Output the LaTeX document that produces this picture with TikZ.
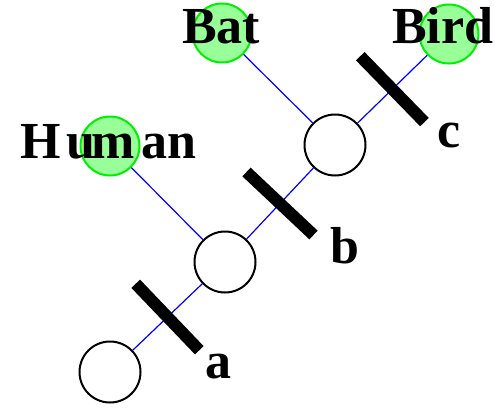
\documentclass[tikz,border=0pt]{standalone}
\usepackage{fontspec}
\setmainfont{Liberation Serif}
\definecolor{leaffill}{RGB}{153,255,153}
\definecolor{leafline}{RGB}{0,238,0}
\begin{document}
\begin{tikzpicture}[x=1pt, y=-1pt,
  innode/.style={circle, draw=black, line width=2pt, fill=white, minimum size=61pt, inner sep=0pt},
  leaf/.style={circle, draw=leafline, line width=2pt, fill=leaffill, minimum size=59pt, inner sep=0pt},
  branch/.style={blue, line width=1.2pt},
  changebar/.style={rectangle, sloped, fill=black, minimum width=12pt, minimum height=92pt, inner sep=0pt},
  taxon/.style={font=\fontsize{52}{52}\selectfont\bfseries, anchor=base west, inner sep=0pt}]
  % Tree of three taxa

  \useasboundingbox (0,0) rectangle (495,407);

  % Inner nodes
  \node[innode] (root) at (110,372) {};
  \node[innode] (mid) at (225,262) {};
  \node[innode] (top) at (335,145) {};

  % Leaves
  \node[leaf] (human) at (110,146) {};
  \node[leaf] (bat) at (222,33) {};
  \node[leaf] (bird) at (449,34) {};

  % Branches, with the marked changes
  \draw[branch] (root) -- (mid) node[changebar, midway] (bara) {};
  \draw[branch] (mid) -- (top) node[changebar, midway] (barb) {};
  \draw[branch] (top) -- (bird) node[changebar, midway] (barc) {};
  \draw[branch] (mid) -- (human);
  \draw[branch] (top) -- (bat);

  % Names
  \node[taxon] (humantext) at (20,158) {H\kern6pt u\kern-4pt m\kern7pt a\kern0pt n};
  \node[taxon] (battext) at (182,43) {Bat};
  \node[taxon] (birdtext) at (392,43) {Bird};

  % Change labels
  \node[taxon] (la) at (205,378) {a};
  \node[taxon] (lb) at (330,263) {b};
  \node[taxon] (lc) at (437,147) {c};
\end{tikzpicture}
\end{document}
